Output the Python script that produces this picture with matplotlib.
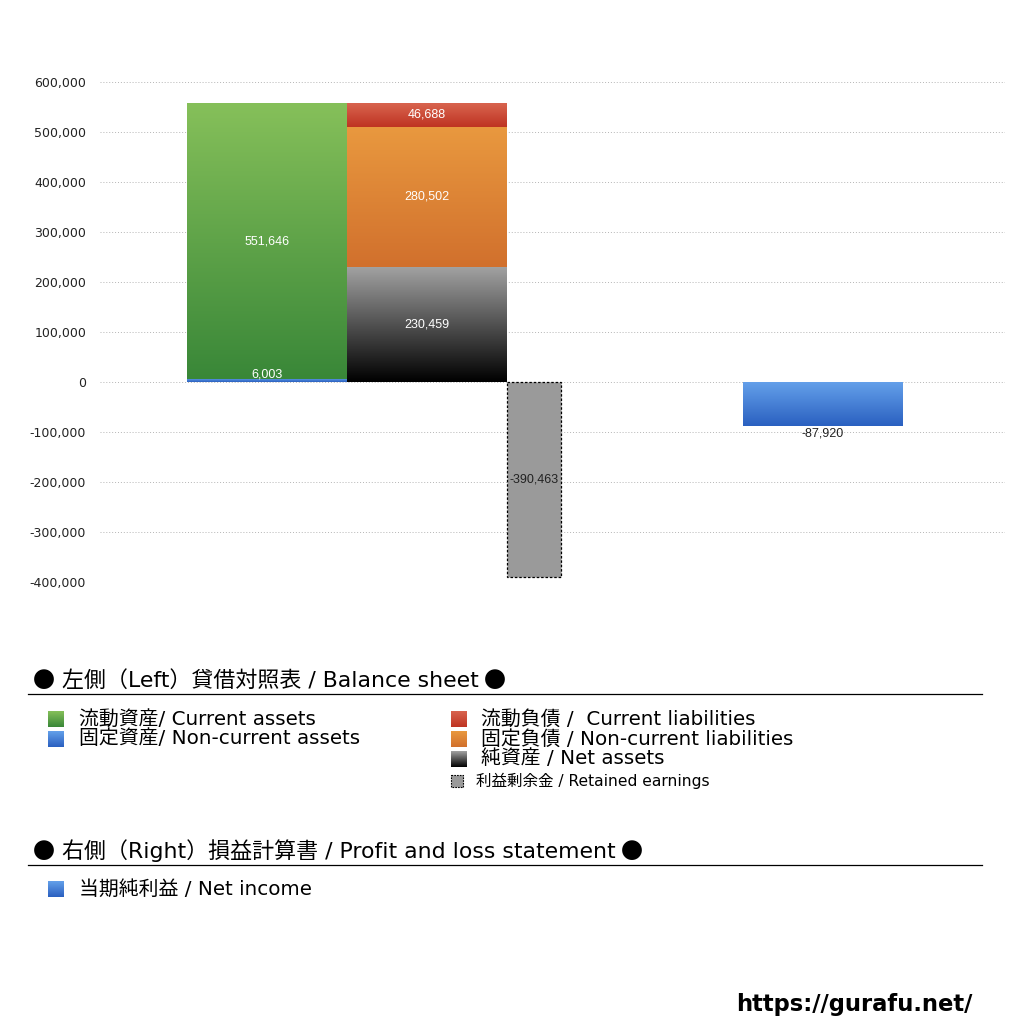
import numpy as np
import matplotlib
matplotlib.use("Agg")
import matplotlib.pyplot as plt
from matplotlib.patches import Rectangle
from matplotlib.colors import to_rgb

plt.rcParams['font.family'] = ['DejaVu Sans', 'Noto Sans CJK JP']
BAR_FONT = ['Liberation Sans', 'Noto Sans CJK JP']
CJK_FONT = ['Noto Sans CJK JP', 'DejaVu Sans']

# ---- data ----
current_assets = 551646
noncurrent_assets = 6003
current_liabilities = 46688
noncurrent_liabilities = 280502
net_assets = 230459
retained_earnings = -390463
net_income = -87920

y_ticks = [600000, 500000, 400000, 300000, 200000, 100000, 0,
           -100000, -200000, -300000, -400000]

legend_left = ["流動資産/ Current assets", "固定資産/ Non-current assets"]
legend_right = ["流動負債 /  Current liabilities", "固定負債 / Non-current liabilities",
                "純資産 / Net assets"]
legend_re = "利益剰余金 / Retained earnings"
legend_pl = "当期純利益 / Net income"
title_bs = "左側（Left）貸借対照表 / Balance sheet"
title_pl = "右側（Right）損益計算書 / Profit and loss statement"

# ---- styles ----
GREEN = ("#86c05a", "#398738")
BLUE = ("#64a0ea", "#2a60c0")
RED = ("#d8644f", "#bf3422")
ORANGE = ("#e9993f", "#d1702d")
BLACK = ("#a3a3a3", "#000000")
GRAY = "#9a9a9a"

W, H = 1024, 1024
fig = plt.figure(figsize=(W / 100, H / 100), dpi=100)
fig.patch.set_facecolor("white")

ax_l, ax_r, ax_t, ax_b = 100, 1005, 82, 582
ax = fig.add_axes([ax_l / W, 1 - ax_b / H, (ax_r - ax_l) / W, (ax_b - ax_t) / H])


def grad_array(c_top, c_bot, n=512):
    t = np.linspace(0, 1, n).reshape(-1, 1, 1)
    a = np.array(to_rgb(c_top)).reshape(1, 1, 3)
    b = np.array(to_rgb(c_bot)).reshape(1, 1, 3)
    return a * (1 - t) + b * t


def grad_bar(ax, x, bottom, height, width, colors, z=2):
    rect = ax.bar(x, height, width, bottom, align='edge', color='none',
                  linewidth=0, zorder=z)[0]
    lo, hi = min(bottom, bottom + height), max(bottom, bottom + height)
    im = ax.imshow(grad_array(*colors), extent=[x, x + width, lo, hi],
                   origin='upper', aspect='auto', zorder=z, interpolation='bilinear')
    im.set_clip_path(rect)
    return rect


# x layout (in pixel-like units across the plot width)
bw = 160
x_assets = 187 - ax_l
x_liab = 347 - ax_l
x_re = 507 - ax_l
re_w = 54
x_ni = 743 - ax_l

grad_bar(ax, x_assets, 0, noncurrent_assets, bw, BLUE)
grad_bar(ax, x_assets, noncurrent_assets, current_assets, bw, GREEN)
grad_bar(ax, x_liab, 0, net_assets, bw, BLACK)
grad_bar(ax, x_liab, net_assets, noncurrent_liabilities, bw, ORANGE)
grad_bar(ax, x_liab, net_assets + noncurrent_liabilities, current_liabilities, bw, RED)
ax.bar(x_re, retained_earnings, re_w, 0, align='edge', color=GRAY,
       edgecolor='black', linestyle=(0, (2, 1.5)), linewidth=0.9, zorder=3)
grad_bar(ax, x_ni, 0, net_income, bw, BLUE)

lab_fs = 9
lab_kw = dict(ha='center', va='center', fontsize=lab_fs, zorder=5, family=BAR_FONT)
fmt = lambda v: f"{v:,}"
ax.text(x_assets + bw / 2, noncurrent_assets + current_assets / 2, fmt(current_assets),
        color='white', **lab_kw)
ax.annotate(fmt(noncurrent_assets), (x_assets + bw / 2, noncurrent_assets),
            xytext=(0, -1), textcoords='offset points', family=BAR_FONT,
            color='white', ha='center', va='bottom', fontsize=lab_fs, zorder=5)
ax.text(x_liab + bw / 2, net_assets / 2, fmt(net_assets), color='white', **lab_kw)
ax.text(x_liab + bw / 2, net_assets + noncurrent_liabilities / 2,
        fmt(noncurrent_liabilities), color='white', **lab_kw)
ax.text(x_liab + bw / 2, net_assets + noncurrent_liabilities + current_liabilities / 2,
        fmt(current_liabilities), color='white', **lab_kw)
ax.text(x_re + re_w / 2, retained_earnings / 2, fmt(retained_earnings),
        color='#222222', **lab_kw)
ax.annotate(fmt(net_income), (x_ni + bw / 2, net_income), xytext=(0, -1),
            textcoords='offset points', color='#222222', family=BAR_FONT,
            ha='center', va='top', fontsize=lab_fs, zorder=5)

ax.set_xlim(0, ax_r - ax_l)
ax.set_ylim(-400000, 600000)
ax.set_yticks(y_ticks)
ax.set_yticklabels([f"{v:,}" for v in y_ticks], fontsize=9, color='#222222')
ax.set_xticks([])
ax.tick_params(axis='y', length=0, pad=10)
for s in ax.spines.values():
    s.set_visible(False)
ax.yaxis.grid(True, linestyle=(0, (1, 2)), color='#b5b5b5', linewidth=0.7)
ax.set_axisbelow(True)
ax.patch.set_alpha(0)

# ---- overlay for legend ----
ov = fig.add_axes([0, 0, 1, 1])
ov.set_xlim(0, W)
ov.set_ylim(H, 0)
ov.axis('off')
ov.patch.set_alpha(0)


def sq(x, y, colors, size=16):
    ov.imshow(grad_array(*colors), extent=[x, x + size, y + size / 2, y - size / 2],
              aspect='auto', zorder=3, interpolation='bilinear')


renderer = fig.canvas.get_renderer()


def title(y_base, txt):
    fs = 15.8
    b1 = ov.text(33, y_base, "●", fontsize=fs, va='baseline', ha='left', family=CJK_FONT)
    bb = b1.get_window_extent(renderer)
    t = ov.text(bb.x1 + 7, y_base, txt, fontsize=fs, va='baseline', ha='left')
    tb = t.get_window_extent(renderer)
    ov.text(tb.x1 + 5, y_base, "●", fontsize=fs, va='baseline', ha='left', family=CJK_FONT)


title(687, title_bs)
ov.plot([28, 982], [694, 694], color='black', linewidth=0.9)
title(858, title_pl)
ov.plot([28, 982], [865, 865], color='black', linewidth=0.9)

item_fs = 14.3
sq(48, 719, GREEN)
ov.text(79, 719, legend_left[0], fontsize=item_fs, va='center', ha='left')
sq(48, 739, BLUE)
ov.text(79, 739, legend_left[1], fontsize=item_fs, va='center', ha='left')
for i, (lab, cols) in enumerate(zip(legend_right, [RED, ORANGE, BLACK])):
    yy = 719 + 20 * i
    sq(451, yy, cols)
    ov.text(481, yy, lab, fontsize=item_fs, va='center', ha='left')
ov.add_patch(Rectangle((451, 775), 12, 12, facecolor=GRAY, edgecolor='black',
                       linestyle=(0, (1.5, 1)), linewidth=0.8, zorder=3))
ov.text(476, 781, legend_re, fontsize=11.2, va='center', ha='left')
sq(48, 889, BLUE)
ov.text(79, 889, legend_pl, fontsize=item_fs, va='center', ha='left')

ov.text(972, 1004, "https://gurafu.net/", fontsize=16.3, fontweight='bold',
        va='center', ha='right', family=['DejaVu Sans'])
ov.set_xlim(0, W)
ov.set_ylim(H, 0)

fig.savefig("out.png", dpi=100, facecolor='white')
